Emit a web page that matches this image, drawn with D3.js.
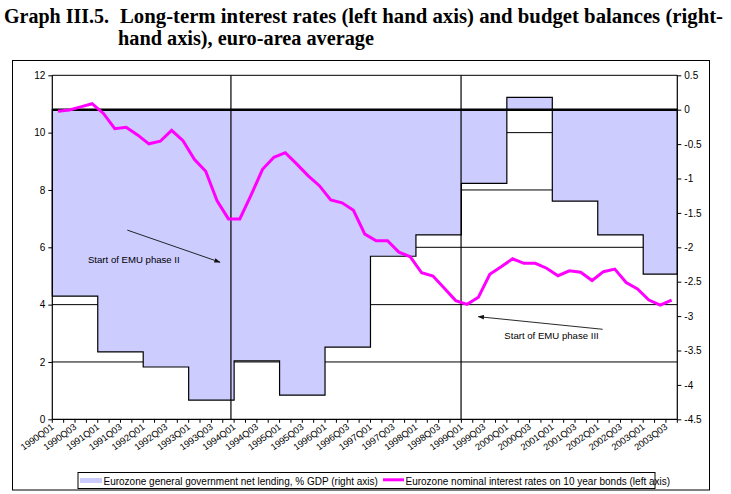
<!DOCTYPE html>
<html><head><meta charset="utf-8">
<script src="https://cdn.jsdelivr.net/npm/d3@7"></script>
<style>html,body{margin:0;padding:0;background:#fff;} svg{display:block;}</style>
</head><body><svg id="c" width="731" height="494"></svg>
<script>
const quarters = [
 "1990Q01","1990Q02","1990Q03","1990Q04","1991Q01","1991Q02","1991Q03","1991Q04",
 "1992Q01","1992Q02","1992Q03","1992Q04","1993Q01","1993Q02","1993Q03","1993Q04",
 "1994Q01","1994Q02","1994Q03","1994Q04","1995Q01","1995Q02","1995Q03","1995Q04",
 "1996Q01","1996Q02","1996Q03","1996Q04","1997Q01","1997Q02","1997Q03","1997Q04",
 "1998Q01","1998Q02","1998Q03","1998Q04","1999Q01","1999Q02","1999Q03","1999Q04",
 "2000Q01","2000Q02","2000Q03","2000Q04","2001Q01","2001Q02","2001Q03","2001Q04",
 "2002Q01","2002Q02","2002Q03","2002Q04","2003Q01","2003Q02","2003Q03"];
const interestRates = [
 10.75,10.79,10.90,11.01,10.67,10.14,10.19,9.92,
 9.61,9.70,10.08,9.72,9.07,8.65,7.62,6.99,
 6.99,7.83,8.72,9.14,9.30,8.91,8.50,8.15,
 7.65,7.55,7.29,6.46,6.23,6.23,5.83,5.67,
 5.11,5.00,4.57,4.14,4.01,4.26,5.06,5.32,
 5.60,5.44,5.44,5.27,5.01,5.18,5.13,4.84,
 5.15,5.24,4.77,4.55,4.16,3.98,4.16];
const budgetYears = ["1990","1991","1992","1993","1994","1995","1996","1997","1998","1999","2000","2001","2002","2003"];
const budgetBalance = [-2.71,-3.52,-3.74,-4.22,-3.65,-4.15,-3.45,-2.13,-1.82,-1.07,0.18,-1.33,-1.82,-2.39];
const leftTicks = [0,2,4,6,8,10,12];
const rightTicks = [0.5,0,-0.5,-1,-1.5,-2,-2.5,-3,-3.5,-4,-4.5];
const xLabels = quarters.filter((q,i)=>i%2===0);
const titleParts = ["Graph III.5.","Long-term interest rates (left hand axis) and budget balances (right-","hand axis), euro-area average"];
const legendLabels = ["Eurozone general government net lending, % GDP (right axis)","Eurozone nominal interest rates on 10 year bonds (left axis)"];
// EMU markers: vertical line position (in quarter units) and annotation (quarter units / left-axis units)
const emuLinePos = [15.72, 35.97];
const emuNotes = [
  {text:"Start of EMU phase II", tx:3.14, ty:5.46, ax0:6.6, ay0:6.60, ax1:14.76, ay1:5.48},
  {text:"Start of EMU phase III", tx:39.78, ty:2.80, ax0:48.43, ay0:3.14, ax1:37.49, ay1:3.58}
];

const svg = d3.select("#c");
const m = {l:52.3, r:677.3, t:75.3, b:419.3};
const x = d3.scaleBand().domain(quarters).range([m.l,m.r]).padding(0);
const xPos = d3.scaleLinear().domain([0, quarters.length]).range([m.l,m.r]);
const yL = d3.scaleLinear().domain([0,12]).range([m.b,m.t]);
const yR = d3.scaleLinear().domain([-4.5,0.5]).range([m.b,m.t]);
const sans = "'Liberation Sans', Arial, sans-serif";

svg.append("rect").attr("width",731).attr("height",494).attr("fill","#fff");
svg.append("rect").attr("x",12.5).attr("y",60.5).attr("width",697).attr("height",429.5)
  .attr("fill","none").attr("stroke","#000").attr("stroke-width",1);

const defs = svg.append("defs");
defs.append("marker").attr("id","arr").attr("viewBox","0 0 10 10").attr("refX",9).attr("refY",5)
  .attr("markerWidth",7).attr("markerHeight",7).attr("orient","auto")
  .append("path").attr("d","M0,1.5 L10,5 L0,8.5 Z").attr("fill","#111");

// gridlines (behind area)
svg.append("g").selectAll("line").data(leftTicks.filter(d=>d>0)).join("line")
  .attr("x1",m.l).attr("x2",m.r).attr("y1",d=>yL(d)).attr("y2",d=>yL(d))
  .attr("stroke","#000").attr("stroke-width",1);

// stepped budget area
const steps = budgetYears.map((yr,i)=>({x:x(yr+"Q01"), v:budgetBalance[i]}));
steps.push({x:m.r, v:budgetBalance[budgetBalance.length-1]});
const area = d3.area().curve(d3.curveStepAfter).x(d=>d.x).y0(yR(0)).y1(d=>yR(d.v));
svg.append("path").datum(steps).attr("d",area).attr("fill","#CCCCFF")
  .attr("stroke","#000").attr("stroke-width",1.2);

// zero line (right axis)
svg.append("line").attr("x1",m.l).attr("x2",m.r).attr("y1",yR(0)).attr("y2",yR(0))
  .attr("stroke","#000").attr("stroke-width",2.5);

// EMU vertical lines
svg.append("g").selectAll("line").data(emuLinePos).join("line")
  .attr("x1",d=>xPos(d)).attr("x2",d=>xPos(d)).attr("y1",m.t).attr("y2",m.b)
  .attr("stroke","#000").attr("stroke-width",1.2);

// interest rate line
const line = d3.line().x((d,i)=>x(quarters[i])+x.bandwidth()/2).y(d=>yL(d));
svg.append("path").datum(interestRates).attr("d",line).attr("fill","none")
  .attr("stroke","#FF00FF").attr("stroke-width",3).attr("stroke-linejoin","miter");

// left axis
const gL = svg.append("g").attr("transform",`translate(${m.l},0)`)
  .call(d3.axisLeft(yL).tickValues(leftTicks).tickSize(4).tickPadding(3).tickFormat(d=>String(d)));
// right axis
const gR = svg.append("g").attr("transform",`translate(${m.r},0)`)
  .call(d3.axisRight(yR).tickValues(rightTicks).tickSize(4).tickPadding(3).tickFormat(d=>String(d)));
[gL,gR].forEach(g=>{
  g.select(".domain").attr("stroke","#000").attr("stroke-width",1.2)
    .attr("d",`M0,${m.t}V${m.b}`);
  g.selectAll(".tick line").attr("stroke","#000");
  g.selectAll("text").attr("font-family",sans).attr("font-size",10).attr("fill","#000");
});

// bottom axis
svg.append("line").attr("x1",m.l).attr("x2",m.r).attr("y1",m.b).attr("y2",m.b)
  .attr("stroke","#000").attr("stroke-width",1.2);
svg.append("g").selectAll("line").data(d3.range(quarters.length+1)).join("line")
  .attr("x1",d=>xPos(d)).attr("x2",d=>xPos(d)).attr("y1",m.b).attr("y2",m.b+3.5)
  .attr("stroke","#000").attr("stroke-width",1);
svg.append("g").selectAll("text").data(xLabels).join("text")
  .attr("transform",d=>`translate(${x(d)+x.bandwidth()/2-3.5},${m.b+9}) rotate(-36)`)
  .attr("text-anchor","end").attr("font-family",sans).attr("font-size",9.3).attr("fill","#000")
  .text(d=>d);

// annotations
emuNotes.forEach(n=>{
  svg.append("line").attr("x1",xPos(n.ax0)).attr("y1",yL(n.ay0)).attr("x2",xPos(n.ax1)).attr("y2",yL(n.ay1))
    .attr("stroke","#111").attr("stroke-width",0.9).attr("marker-end","url(#arr)");
  svg.append("text").attr("x",xPos(n.tx)).attr("y",yL(n.ty)).attr("font-family",sans)
    .attr("font-size",9.6).attr("fill","#000").text(n.text);
});

// legend
svg.append("rect").attr("x",78).attr("y",472.5).attr("width",577).attr("height",16)
  .attr("fill","#fff").attr("stroke","#000").attr("stroke-width",1);
svg.append("rect").attr("x",80).attr("y",478).attr("width",22).attr("height",5).attr("fill","#CCCCFF");
svg.append("text").attr("x",103.5).attr("y",484.5).attr("font-family",sans).attr("font-size",10)
  .attr("fill","#000").text(legendLabels[0]);
svg.append("line").attr("x1",383).attr("x2",404).attr("y1",479.8).attr("y2",479.8)
  .attr("stroke","#FF00FF").attr("stroke-width",3);
svg.append("text").attr("x",405.5).attr("y",484.5).attr("font-family",sans).attr("font-size",10)
  .attr("fill","#000").text(legendLabels[1]);

// title
const serif = "'Liberation Serif','Times New Roman',serif";
svg.append("text").attr("x",4).attr("y",23).attr("font-family",serif).attr("font-weight","bold")
  .attr("font-size",20).attr("textLength",105).attr("lengthAdjust","spacingAndGlyphs").text(titleParts[0]);
svg.append("text").attr("x",120).attr("y",23).attr("font-family",serif).attr("font-weight","bold")
  .attr("font-size",20).attr("textLength",603).attr("lengthAdjust","spacingAndGlyphs").text(titleParts[1]);
svg.append("text").attr("x",118).attr("y",45).attr("font-family",serif).attr("font-weight","bold")
  .attr("font-size",20).attr("textLength",256).attr("lengthAdjust","spacingAndGlyphs").text(titleParts[2]);
</script>
</body></html>
